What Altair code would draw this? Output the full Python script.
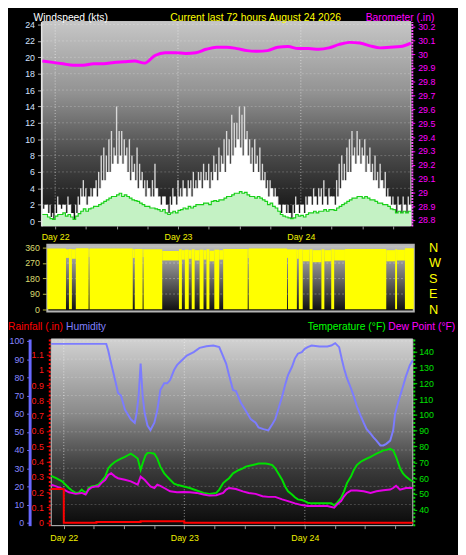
import altair as alt
import pandas as pd

FONT = "Liberation Sans"
T0, T1 = -2.5, 69.5          # hours relative to Day 22 00:00 (last 72 hours)

# ---------------- data ----------------
wind_t = [T0 + 0.5 * i for i in range(145)]      # 30-min samples
wind_speed = [1.5, 2, 1, 0.5, 0, 1, 2, 1.5, 2, 1, 2, 1, 0, 1, 2,
              3, 3, 2, 3, 3, 4, 3, 4, 5, 5, 6, 6, 7, 8, 7,
              8, 7, 8, 6, 5, 6, 5, 4, 5, 4, 3, 4, 3, 3, 4,
              3, 2, 3, 2, 1, 2, 3, 2, 3, 3, 4, 3, 4, 3, 4,
              4, 5, 4, 5, 5, 4, 5, 6, 5, 6, 7, 6, 8, 7, 8,
              9, 10, 9, 8, 10, 8, 7, 6, 7, 6, 5, 5, 4, 3, 4,
              3, 3, 2, 1, 2, 1, 1, 0, 1, 2, 1, 2, 1, 2, 3,
              2, 3, 2, 3, 2, 3, 2, 3, 3, 2, 3, 4, 5, 5, 6,
              6, 8, 7, 8, 7, 8, 6, 7, 6, 5, 5, 4, 5, 4, 3,
              3, 2, 2, 1, 2, 1, 2, 1, 2, 2]
wind_gust = [2, 2, 2, 2, 1, 2, 3, 2, 2, 2, 3, 2, 1, 2, 3,
             4, 5, 4, 3, 4, 4, 5, 6, 8, 9, 8, 10, 11, 9, 14,
             11, 11, 10, 9, 10, 8, 7, 9, 7, 6, 5, 5, 4, 5, 7,
             4, 3, 3, 3, 2, 3, 4, 3, 5, 4, 5, 4, 5, 5, 6,
             5, 6, 6, 7, 6, 7, 6, 8, 7, 9, 8, 10, 11, 10, 13,
             12, 12, 14, 13, 14, 11, 10, 9, 10, 8, 9, 7, 6, 5, 5,
             4, 4, 3, 2, 2, 2, 2, 1, 2, 3, 2, 2, 2, 3, 3,
             3, 4, 3, 4, 4, 5, 3, 4, 3, 3, 5, 7, 8, 7, 9,
             10, 11, 9, 11, 10, 9, 10, 8, 9, 7, 8, 6, 7, 5, 6,
             4, 3, 3, 2, 3, 2, 3, 2, 3, 2]
wind_avg = [0.8, 0.8, 0.5, 0.3, 0.2, 0.6, 0.8, 0.8, 1, 0.6, 0.8, 0.5, 0.2, 0.6, 0.9,
            1.2, 1.5, 1.2, 1.5, 1.6, 1.8, 1.8, 2, 2.2, 2.4, 2.6, 2.8, 3, 3, 3.2,
            3.4, 3, 3.2, 3, 2.8, 2.6, 2.5, 2.4, 2.2, 2, 1.8, 1.8, 1.6, 1.6, 1.5,
            1.4, 1.2, 1.4, 1, 0.8, 1, 1.2, 1, 1.3, 1.4, 1.6, 1.5, 1.8, 1.6, 1.8,
            2, 2, 2, 2.2, 2.2, 2, 2.4, 2.5, 2.4, 2.6, 2.6, 2.8, 3, 3, 3.2,
            3.4, 3.4, 3.6, 3.4, 3.5, 3.2, 3, 3, 2.8, 3, 2.8, 2.6, 2.4, 2, 2.2,
            1.8, 1.6, 1.2, 0.8, 0.6, 0.5, 0.4, 0.3, 0.4, 0.8, 0.6, 0.7, 0.5, 0.8, 1,
            1, 1.2, 1, 1.2, 1.2, 1.4, 1.2, 1.4, 1.4, 1.3, 1.6, 1.8, 2, 2.2, 2.4,
            2.6, 2.8, 2.8, 3, 3, 2.8, 3, 2.8, 2.6, 2.6, 2.4, 2.2, 2.2, 2, 2,
            1.8, 1.5, 1.4, 1, 1.2, 1, 1.2, 1, 1.2, 1.2]

baro_t = [T0 + 2 * k for k in range(37)]           # 2-hour samples
baro_v = [29.95, 29.94, 29.93, 29.92, 29.92, 29.93, 29.93, 29.94, 29.945, 29.95,
          29.935, 29.99, 30.01, 30.01, 30.005, 30.01, 30.035, 30.05, 30.05, 30.04,
          30.025, 30.02, 30.025, 30.05, 30.055, 30.04, 30.04, 30.035, 30.045, 30.07,
          30.085, 30.08, 30.06, 30.045, 30.05, 30.055, 30.08]

# wind direction: runs of (start, end) with min/max direction seen in the run
dir_edges = [-2.5, 1.17, 1.75, 2.33, 3.10, 5.61, 5.80, 14.29, 14.68, 16.22, 16.42,
             20.08, 23.36, 23.94, 24.52, 25.29, 25.87, 26.45, 27.42, 28.19, 28.77,
             29.35, 30.31, 31.28, 32.05, 36.87, 37.07, 44.59, 44.79, 46.53, 46.91,
             47.68, 49.03, 49.61, 51.35, 51.93, 53.28, 53.86, 55.98, 64.09, 65.83,
             66.21, 67.76, 69.5]
dir_lo = [2, 300, 2, 295, 2, 305, 2, 300, 2, 305, 2, 285, 2, 290, 2, 295, 2, 285, 2, 290,
          2, 280, 2, 290, 2, 300, 2, 300, 2, 295, 2, 280, 2, 275, 2, 280, 2, 285, 2, 280,
          2, 285, 2]
dir_hi = [355, 350, 352, 350, 356, 350, 354, 350, 352, 350, 350, 340, 350, 345, 348, 345,
          350, 345, 348, 345, 350, 342, 348, 345, 352, 350, 354, 350, 350, 348, 350, 348,
          350, 345, 350, 345, 350, 348, 352, 345, 350, 348, 356]

hum_t = [-2.5, 8.46, 8.85, 9.43, 10.22, 10.80, 11.39, 12.17, 12.76, 13.35, 14.13, 14.52,
         14.91, 15.30, 15.70, 16.09, 16.67, 17.26, 18.04, 18.63, 19.22, 20.00, 20.59,
         21.17, 21.96, 22.54, 23.52, 24.50, 25.87, 27.04, 28.41, 29.78, 30.96, 32.33,
         32.91, 33.70, 34.28, 35.26, 36.24, 37.22, 38.20, 38.78, 39.76, 40.74, 41.52,
         42.11, 42.70, 43.48, 44.07, 44.65, 45.44, 46.02, 46.61, 47.39, 47.98, 48.57,
         49.35, 50.91, 52.48, 53.26, 54.04, 54.83, 55.41, 55.81, 56.39, 57.18, 57.76,
         58.35, 59.13, 59.72, 60.31, 61.09, 61.67, 62.26, 63.04, 63.63, 64.22, 65.00,
         65.59, 65.98, 66.57, 67.54, 68.13, 68.91, 69.50]
hum_v = [98.4, 98.4, 94.8, 87.6, 78.5, 71.4, 70, 62.3, 59.6, 56.9, 55, 60.5, 70, 87.6,
         70, 60.5, 53.5, 51, 55, 62, 73, 76.7, 76.7, 78.5, 84, 86.7, 89.4, 92, 93.9,
         96.2, 97.1, 97.5, 96.6, 87.6, 81.2, 73, 72.4, 66, 61.6, 57, 55, 52.4, 51.5,
         50.8, 54.2, 57, 62.3, 69.5, 75.8, 81.2, 85.8, 90.3, 93, 93.9, 95.7, 96.6, 97.5,
         97, 97, 97.5, 98.8, 96.6, 89.4, 84.9, 79.5, 74, 69.5, 64.2, 58.8, 55, 51.5, 49,
         47, 45.2, 42.5, 42.5, 43.4, 45.2, 50.8, 60, 66, 75, 80.5, 86.7, 89.4]

temp_t = [-2.5, -1.52, -0.35, 1.02, 1.61, 2.39, 2.98, 3.57, 3.96, 4.54,
          4.93, 5.52, 6.30, 6.89, 7.48, 8.26, 8.85, 9.43, 10.22, 10.80,
          11.39, 12.17, 12.76, 13.35, 14.13, 14.72, 15.30, 15.70, 16.28, 16.67,
          17.26, 18.04, 18.63, 19.22, 20.00, 20.59, 21.17, 21.96, 22.54, 23.91,
          25.09, 26.46, 27.83, 29.00, 30.37, 30.96, 31.74, 32.33, 32.91, 33.70,
          34.28, 34.87, 35.65, 36.24, 37.61, 38.78, 40.15, 40.74, 41.52, 42.11,
          42.70, 43.48, 44.07, 44.65, 45.44, 46.02, 46.61, 47.39, 47.98, 48.57,
          49.35, 49.94, 51.31, 52.48, 53.26, 53.85, 54.44, 55.22, 55.81, 56.39,
          57.18, 57.76, 58.35, 59.13, 59.72, 60.31, 61.09, 61.67, 62.26, 63.04,
          63.63, 64.22, 65.00, 65.59, 66.17, 66.96, 67.54, 68.13, 68.91, 69.50]
temp_v = [61.5, 60, 58, 53.8, 52.2, 50.7, 50.9, 52.8, 51.6, 50.7,
          53.8, 54.8, 55.2, 55.9, 58, 61, 66.2, 68.3, 70.4, 71.4,
          72.4, 73.5, 74.5, 75.5, 73.9, 72.4, 65.2, 69.3, 74.5, 76,
          76, 75.5, 72.4, 67.3, 63.1, 61, 59, 56.5, 55.9, 54.8,
          53.8, 52.2, 50.7, 50.1, 50.7, 52.8, 56.9, 58.5, 60, 63.1,
          64.2, 65.2, 66.2, 67.3, 68.3, 69.3, 69.3, 69, 68.3, 66.2,
          63.1, 59, 54.8, 51.7, 49.7, 48, 46.6, 46.2, 45.5, 44.5,
          44.1, 44.1, 44.1, 44.1, 44.1, 42.9, 44.5, 47.6, 51.7, 56.9,
          61, 65.2, 68.3, 70.4, 71.4, 72.4, 73.5, 74.5, 75.5, 76.6,
          77.6, 77.9, 78.6, 77.6, 73.5, 66.2, 63.1, 61, 59, 58]

dew_t = [-2.5, -1.52, -0.35, 1.02, 2.39, 3.57, 4.35, 4.93, 5.52, 6.30,
         6.89, 7.48, 8.26, 8.85, 9.43, 10.22, 10.80, 12.17, 13.35, 14.72,
         15.30, 16.09, 16.67, 17.26, 18.04, 18.63, 19.22, 20.00, 21.17, 22.54,
         23.91, 25.09, 26.46, 27.83, 29.00, 30.37, 31.74, 32.33, 32.91, 34.28,
         35.65, 36.83, 38.20, 39.57, 40.74, 42.11, 43.48, 44.65, 46.02, 47.39,
         48.57, 49.94, 51.31, 52.48, 53.85, 54.44, 55.22, 55.81, 56.39, 57.18,
         58.35, 59.72, 61.09, 62.26, 63.63, 65.00, 65.59, 66.17, 66.96, 68.13, 69.50]
dew_v = [55.9, 54.8, 53.4, 51.1, 50.1, 50.7, 49.7, 52.8, 54.2, 54.8,
         54.8, 56.9, 59, 62.1, 63.1, 61, 60, 59, 58, 55.9,
         61, 59, 56.9, 54.8, 53.8, 55.9, 55.2, 53.8, 51.7, 51.1,
         51.3, 51.1, 50.7, 49.7, 49, 49.2, 50.7, 52.8, 53.8, 53.2,
         51.7, 50.7, 50.1, 48.6, 48.2, 48.2, 46.6, 45.5, 44.1, 43,
         42.4, 42.4, 42.4, 42.4, 41.4, 43.5, 45.5, 48.6, 50.7, 52.2,
         52.2, 51.7, 50.7, 51.7, 52.4, 52.8, 53.8, 55.2, 52.8, 53.8, 53.8]

rain_t = [-2.5, 0, 6.5, 15.3, 24, 69.5]
rain_v = [0.22, 0, 0.005, 0.01, 0, 0]

# tick / label lists
day_starts = [0, 24, 48]
six_hours = [0, 6, 12, 18, 24, 30, 36, 42, 48, 54, 60, 66]
wind_ticks = [0, 2, 4, 6, 8, 10, 12, 14, 16, 18, 20, 22, 24]
baro_ticks = [28.8, 28.9, 29.0, 29.1, 29.2, 29.3, 29.4, 29.5, 29.6, 29.7, 29.8, 29.9, 30.0, 30.1, 30.2]
dir_ticks = [0, 90, 180, 270, 360]
hum_ticks = [0, 10, 20, 30, 40, 50, 60, 70, 80, 90, 100]
rain_ticks = [0, 0.1, 0.2, 0.3, 0.4, 0.5, 0.6, 0.7, 0.8, 0.9, 1.0, 1.1]
temp_ticks = [40, 50, 60, 70, 80, 90, 100, 110, 120, 130, 140]

# ---------------- layout (chart pixels) ----------------
W, H = 458, 547
TOP_X, TOP_Y = [35, 410], [217, 9]
MID_X, MID_Y = [40, 413], [304, 236]
BOT_X, BOT_Y = [44, 412], [522, 332]
WIND_DOM, BARO_DOM = [-0.6, 24.36], [28.757, 30.235]
DIR_DOM = [-11.4, 377]
HUM_DOM, RAIN_DOM, TEMP_DOM = [-1.62, 101.1], [-0.0193, 1.2026], [30, 148]


def sc(dom, rng):
    return alt.Scale(domain=list(dom), range=list(rng), nice=False, zero=False)


def grad(stops):
    return alt.LinearGradient(gradient="linear", x1=0, x2=0, y1=0, y2=1,
                              stops=[alt.GradientStop(offset=o, color=c) for o, c in stops])


def X(field, rng, axis=None):
    if axis is None:
        return alt.X(field, type="quantitative", scale=sc([T0, T1], rng), axis=None)
    return alt.X(field, type="quantitative", scale=sc([T0, T1], rng), axis=axis)


def Y(field, dom, rng, axis=None):
    if axis is None:
        return alt.Y(field, type="quantitative", scale=sc(dom, rng), axis=None)
    return alt.Y(field, type="quantitative", scale=sc(dom, rng), axis=axis)


def frame_df(dom):
    return pd.DataFrame({"t0": [T0], "t1": [T1], "lo": [dom[0]], "hi": [dom[1]]})


def hgrid_df(vals):
    return pd.DataFrame({"v": vals, "t0": [T0] * len(vals), "t1": [T1] * len(vals)})


def vgrid_df(dom):
    return pd.DataFrame({"d": day_starts, "lo": [dom[0]] * 3, "hi": [dom[1]] * 3})


def label(text, x, y, color, size=10.5, align="left"):
    return alt.Chart(pd.DataFrame({"s": [text]})).mark_text(
        align=align, baseline="alphabetic", color=color, fontSize=size, font=FONT
    ).encode(x=alt.value(x), y=alt.value(y), text="s:N")


day_expr = "datum.value % 24 == 0 ? 'Day ' + (22 + datum.value / 24) : ''"
common = dict(labelFont=FONT, labelOverlap=False, title=None, grid=False)

# ---------------- top panel: wind speed + barometer ----------------
wind_df = pd.DataFrame({"t": wind_t, "speed": wind_speed, "gust": wind_gust, "avg": wind_avg})
baro_df = pd.DataFrame({"t": baro_t, "v": baro_v})

top_bg = alt.Chart(frame_df(WIND_DOM)).mark_rect(
    fill=grad([(0, "#c6c6c6"), (0.35, "#929292"), (0.65, "#4a4a4a"), (1, "#0a0a0a")]),
    stroke="#cfcfcf", strokeWidth=1
).encode(x=X("t0", TOP_X), x2="t1", y=Y("lo", WIND_DOM, TOP_Y), y2="hi")

top_h = alt.Chart(hgrid_df(wind_ticks[1:])).mark_rule(
    color="#ffffff", opacity=0.22, strokeDash=[2, 2]
).encode(x=X("t0", TOP_X), x2="t1", y=Y("v", WIND_DOM, TOP_Y))

top_v = alt.Chart(vgrid_df(WIND_DOM)).mark_rule(
    color="#ffffff", opacity=0.55, strokeDash=[1, 2]
).encode(x=X("d", TOP_X), y=Y("lo", WIND_DOM, TOP_Y), y2="hi")

top_x_axis = alt.Axis(orient="bottom", offset=-(H - TOP_Y[0]), values=six_hours,
                      labelExpr=day_expr, tickSize=3, tickColor="#9a9a9a", domain=False,
                      labelColor="#f0f000", labelFontSize=9, labelPadding=4, **common)
wind_axis = alt.Axis(orient="left", offset=-(TOP_X[0] - 1), values=wind_ticks, format="d",
                     tickSize=4, tickColor="#a8a8a8", domainColor="#e6e6e6", domainWidth=2,
                     labelColor="#d2e2ff", labelFontSize=9, labelPadding=3, **common)

gust = alt.Chart(wind_df).mark_rule(color="#d8d8d8", strokeWidth=1.4).encode(
    x=X("t", TOP_X, top_x_axis), y=Y("gust", WIND_DOM, TOP_Y, wind_axis), y2=alt.datum(WIND_DOM[0]))
speed = alt.Chart(wind_df).mark_area(interpolate="step-after", color="#ffffff").encode(
    x=X("t", TOP_X), y=Y("speed", WIND_DOM, TOP_Y), y2=alt.datum(WIND_DOM[0]))
avg_area = alt.Chart(wind_df).mark_area(interpolate="step-after", color="#c4f2c4").encode(
    x=X("t", TOP_X), y=Y("avg", WIND_DOM, TOP_Y), y2=alt.datum(WIND_DOM[0]))
avg_line = alt.Chart(wind_df).mark_line(interpolate="step-after", color="#18d018", strokeWidth=1.2).encode(
    x=X("t", TOP_X), y=Y("avg", WIND_DOM, TOP_Y))

baro_axis = alt.Axis(orient="right", offset=-(W - (TOP_X[1] + 1)), values=baro_ticks, format="~g",
                     tickSize=3, tickColor="#ff00ff", domainColor="#ff50ff", domainWidth=2,
                     domainDash=[2, 1], labelColor="#ff00ff", labelFontSize=9, labelPadding=3, **common)
baro = alt.Chart(baro_df).mark_line(color="#ff00ff", strokeWidth=3, interpolate="monotone").encode(
    x=X("t", TOP_X), y=Y("v", BARO_DOM, TOP_Y, baro_axis))

# ---------------- middle panel: wind direction ----------------
dir_df = pd.DataFrame({"t0": dir_edges[:-1], "t1": dir_edges[1:], "lo": dir_lo, "hi": dir_hi})

mid_bg = alt.Chart(frame_df(DIR_DOM)).mark_rect(
    fill=grad([(0, "#c2c2c2"), (0.5, "#6a6a6a"), (1, "#0e0e0e")]),
    stroke="#b4b4b4", strokeWidth=2
).encode(x=X("t0", MID_X), x2="t1", y=Y("lo", DIR_DOM, MID_Y), y2="hi")

compass_axis = alt.Axis(orient="right", offset=-(W - MID_X[1]), values=dir_ticks,
                        labelExpr="datum.value == 270 ? 'W' : datum.value == 180 ? 'S' : datum.value == 90 ? 'E' : 'N'",
                        ticks=False, domain=False, labelColor="#ffff00", labelFontSize=13,
                        labelPadding=15, labelBaseline="middle", **common)
mid_h = alt.Chart(hgrid_df([90, 180, 270])).mark_rule(
    color="#ffffff", opacity=0.3, strokeDash=[2, 2]
).encode(x=X("t0", MID_X), x2="t1", y=Y("v", DIR_DOM, MID_Y, compass_axis))

dir_axis = alt.Axis(orient="left", offset=-(MID_X[0] - 1), values=dir_ticks, format="d",
                    tickSize=4, tickColor="#b8b840", domain=False,
                    labelColor="#dcdc70", labelFontSize=9, labelPadding=3, **common)
direction = alt.Chart(dir_df).mark_rect(color="#ffff00").encode(
    x=X("t0", MID_X), x2="t1", y=Y("lo", DIR_DOM, MID_Y, dir_axis), y2="hi")

# ---------------- bottom panel: rain, humidity, temperature, dew point ----------------
hum_df = pd.DataFrame({"t": hum_t, "v": hum_v})
temp_df = pd.DataFrame({"t": temp_t, "v": temp_v})
dew_df = pd.DataFrame({"t": dew_t, "v": dew_v})
rain_df = pd.DataFrame({"t": rain_t, "v": rain_v})

bot_bg = alt.Chart(frame_df(HUM_DOM)).mark_rect(
    fill=grad([(0, "#d2d2d2"), (0.4, "#8a8a8a"), (0.7, "#3a3a3a"), (1, "#0a0a0a")]),
    stroke="#c8c8c8", strokeWidth=1
).encode(x=X("t0", BOT_X), x2="t1", y=Y("lo", HUM_DOM, BOT_Y), y2="hi")

bot_h = alt.Chart(hgrid_df(hum_ticks[1:])).mark_rule(
    color="#ffffff", opacity=0.2, strokeDash=[2, 2]
).encode(x=X("t0", BOT_X), x2="t1", y=Y("v", HUM_DOM, BOT_Y))

bot_v = alt.Chart(vgrid_df(HUM_DOM)).mark_rule(
    color="#ffffff", opacity=0.55, strokeDash=[1, 2]
).encode(x=X("d", BOT_X), y=Y("lo", HUM_DOM, BOT_Y), y2="hi")

bot_x_axis = alt.Axis(orient="bottom", offset=-(H - BOT_Y[0]), values=six_hours,
                      labelExpr=day_expr, tickSize=3, tickColor="#9a9a9a", domain=False,
                      labelColor="#f0f000", labelFontSize=9, labelPadding=5, **common)
hum_axis = alt.Axis(orient="left", offset=-22, values=hum_ticks, format="d",
                    tickSize=3, tickColor="#7070ff", domainColor="#6868ff", domainWidth=3,
                    labelColor="#8888ff", labelFontSize=9, labelPadding=3, **common)
humidity = alt.Chart(hum_df).mark_line(color="#7c7cff", strokeWidth=2).encode(
    x=X("t", BOT_X, bot_x_axis), y=Y("v", HUM_DOM, BOT_Y, hum_axis))

temp_axis = alt.Axis(orient="right", offset=-(W - BOT_X[1] - 1), values=temp_ticks, format="d",
                     tickSize=3, tickColor="#00e000", domainColor="#00e000", domainWidth=2,
                     domainDash=[2, 2], labelColor="#00e000", labelFontSize=9, labelPadding=2, **common)
temperature = alt.Chart(temp_df).mark_line(color="#00e000", strokeWidth=2).encode(
    x=X("t", BOT_X), y=Y("v", TEMP_DOM, BOT_Y, temp_axis))
dewpoint = alt.Chart(dew_df).mark_line(color="#e600e6", strokeWidth=2).encode(
    x=X("t", BOT_X), y=Y("v", TEMP_DOM, BOT_Y))

rain_axis = alt.Axis(orient="left", offset=-(BOT_X[0] - 2), values=rain_ticks, format="~g",
                     tickSize=3, tickColor="#ff0000", domainColor="#ff0000", domainWidth=2,
                     domainDash=[2, 2], labelColor="#ff1a1a", labelFontSize=9, labelPadding=3, **common)
rain = alt.Chart(rain_df).mark_line(color="#ff0000", strokeWidth=2, interpolate="step-after").encode(
    x=X("t", BOT_X), y=Y("v", RAIN_DOM, BOT_Y, rain_axis))

# ---------------- titles ----------------
titles = [
    label("Windspeed (kts)", 26, 8.5, "#ffffff"),
    label("Current last 72 hours August 24 2026", 252, 8.5, "#ffff00", align="center"),
    label("Barometer (.in)", 364, 8.5, "#ff00ff"),
    label("Rainfall (.in)", 0, 323, "#ff0000"),
    label("Humidity", 59, 323, "#8080ff"),
    label("Temperature (°F)", 305, 323, "#00ff00"),
    label("Dew Point (°F)", 387, 323, "#ff00ff"),
]

chart = alt.layer(
    top_bg, top_h, top_v, gust, speed, avg_area, avg_line, baro,
    mid_bg, mid_h, direction,
    bot_bg, bot_h, bot_v, humidity, temperature, dewpoint, rain,
    *titles
).resolve_scale(x="independent", y="independent").properties(
    width=W, height=H, padding=0, background="#000000",
    autosize=alt.AutoSizeParams(type="none")
).configure_view(strokeWidth=0)

chart.save("out.html", embed_options={"renderer": "svg", "actions": False})
